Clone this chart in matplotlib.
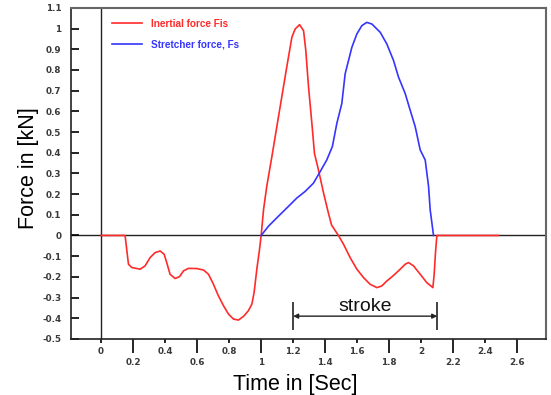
import matplotlib
matplotlib.use('Agg')
import matplotlib.pyplot as plt
from matplotlib.ticker import FixedLocator

plt.rcParams['font.family'] = ['Liberation Sans', 'DejaVu Sans']

# Inertial force Fis (red)
time_fis = [0.0, 0.15, 0.16, 0.171, 0.192, 0.244, 0.275, 0.306, 0.3375,
            0.369, 0.394, 0.41, 0.431, 0.4625, 0.49, 0.515, 0.546, 0.598,
            0.64, 0.671, 0.702, 0.733, 0.765, 0.796, 0.827, 0.858, 0.89,
            0.92, 0.942, 0.956, 0.973, 0.99, 1.0, 1.015, 1.035, 1.067,
            1.098, 1.129, 1.16, 1.192, 1.2125, 1.24, 1.265, 1.279, 1.296,
            1.317, 1.333, 1.358, 1.39, 1.42, 1.44, 1.483, 1.515, 1.556,
            1.598, 1.64, 1.681, 1.723, 1.754, 1.785, 1.817, 1.858, 1.9,
            1.921, 1.952, 1.994, 2.035, 2.073, 2.081, 2.09, 2.098, 2.483]
force_fis = [0.0, 0.0, -0.067, -0.139, -0.155, -0.163, -0.147, -0.107,
             -0.083, -0.075, -0.091, -0.131, -0.1875, -0.208, -0.199, -0.171,
             -0.159, -0.16, -0.167, -0.1875, -0.236, -0.292, -0.34, -0.38,
             -0.404, -0.409, -0.391, -0.364, -0.332, -0.276, -0.163, -0.067,
             0.0, 0.125, 0.237, 0.381, 0.526, 0.67, 0.814, 0.958, 0.998,
             1.019, 0.99, 0.894, 0.718, 0.542, 0.397, 0.317, 0.205, 0.109,
             0.05, 0.0, -0.043, -0.107, -0.163, -0.204, -0.236, -0.252,
             -0.244, -0.22, -0.2, -0.171, -0.139, -0.131, -0.147, -0.1875,
             -0.228, -0.252, -0.1875, -0.075, 0.0, 0.0]

# Stretcher force Fs (blue)
time_fs = [1.0, 1.046, 1.108, 1.171, 1.223, 1.275, 1.327, 1.369, 1.41,
           1.445, 1.473, 1.504, 1.525, 1.546, 1.567, 1.598, 1.629, 1.66,
           1.692, 1.744, 1.785, 1.827, 1.858, 1.9, 1.931, 1.9625, 1.994,
           2.025, 2.046, 2.056, 2.077]
force_fs = [0.0, 0.045, 0.093, 0.141, 0.181, 0.213, 0.253, 0.309, 0.365,
            0.43, 0.542, 0.638, 0.782, 0.846, 0.91, 0.974, 1.014, 1.03,
            1.022, 0.982, 0.926, 0.846, 0.766, 0.686, 0.606, 0.526, 0.413,
            0.365, 0.237, 0.125, 0.0]

x_upper_ticks = [0, 0.4, 0.8, 1.2, 1.6, 2.0, 2.4]
x_lower_ticks = [0.2, 0.6, 1.0, 1.4, 1.8, 2.2, 2.6]
y_ticks = [-0.5, -0.4, -0.3, -0.2, -0.1, 0, 0.1, 0.2, 0.3, 0.4, 0.5, 0.6,
           0.7, 0.8, 0.9, 1.0, 1.1]

stroke_start = 1.2
stroke_end = 2.1


def fmt(v):
    return f'{v:g}'


def main():
    fig = plt.figure(figsize=(5.51, 3.95), dpi=100)
    ax = fig.add_axes([0.129, 0.142, 0.862, 0.838])

    ax.plot(time_fis, force_fis, color='#ff2a2a', lw=1.2,
            label='Inertial force Fis')
    ax.plot(time_fs, force_fs, color='#3535ff', lw=1.2,
            label='Stretcher force, Fs')

    ax.axhline(0, color='#222222', lw=1.0, zorder=0)
    ax.axvline(0, color='#222222', lw=1.0, zorder=0)

    ax.set_xlim(-0.1875, 2.78)
    ax.set_ylim(-0.5, 1.1)

    tick_font = dict(family='DejaVu Sans', weight='bold', size=6.3)

    # y ticks point inward
    ax.set_yticks(y_ticks)
    ax.set_yticklabels([fmt(v) for v in y_ticks], fontdict=tick_font)
    ax.tick_params(axis='y', direction='in', length=6, width=1.2, pad=7,
                   labelcolor='#3a3a3a')

    # staggered x tick labels
    ax.xaxis.set_major_locator(FixedLocator(x_lower_ticks))
    ax.xaxis.set_minor_locator(FixedLocator(x_upper_ticks))
    ax.set_xticklabels([fmt(v) for v in x_lower_ticks], fontdict=tick_font)
    ax.set_xticklabels([fmt(v) for v in x_upper_ticks], minor=True,
                       fontdict=tick_font)
    ax.tick_params(axis='x', which='major', direction='out', length=10,
                   width=1.2, pad=4, labelcolor='#3a3a3a')
    ax.tick_params(axis='x', which='minor', direction='out', length=3,
                   width=1.2, pad=3, labelcolor='#3a3a3a')

    for side in ['top', 'right']:
        ax.spines[side].set_color('#666666')
        ax.spines[side].set_linewidth(1.5)
    for side in ['left', 'bottom']:
        ax.spines[side].set_color('#222222')
        ax.spines[side].set_linewidth(1.2)

    ax.set_xlabel('Time in [Sec]', fontsize=15.5)
    ax.xaxis.set_label_coords(0.472, -0.105)
    ax.set_ylabel('Force in [kN]', fontsize=15.5)
    ax.yaxis.set_label_coords(-0.068, 0.515)

    leg = ax.legend(loc='upper left', bbox_to_anchor=(0.068, 0.995),
                    frameon=False, fontsize=7.2, handlelength=3.0,
                    handletextpad=0.9, labelspacing=1.05,
                    labelcolor='linecolor')
    for t in leg.get_texts():
        t.set_fontweight('bold')

    # stroke marker
    ax.annotate('', xy=(stroke_start, -0.39), xytext=(stroke_end, -0.39),
                arrowprops=dict(arrowstyle='<|-|>', color='#222222', lw=1.0,
                                mutation_scale=7, shrinkA=0, shrinkB=0))
    ax.vlines([stroke_start, stroke_end], -0.455, -0.32, color='#222222',
              lw=1.2)
    ax.text((stroke_start + stroke_end) / 2, -0.345, 'stroke', fontsize=14,
            ha='center', va='center', color='#111111')

    fig.savefig('out.png', dpi=100)


if __name__ == '__main__':
    main()
